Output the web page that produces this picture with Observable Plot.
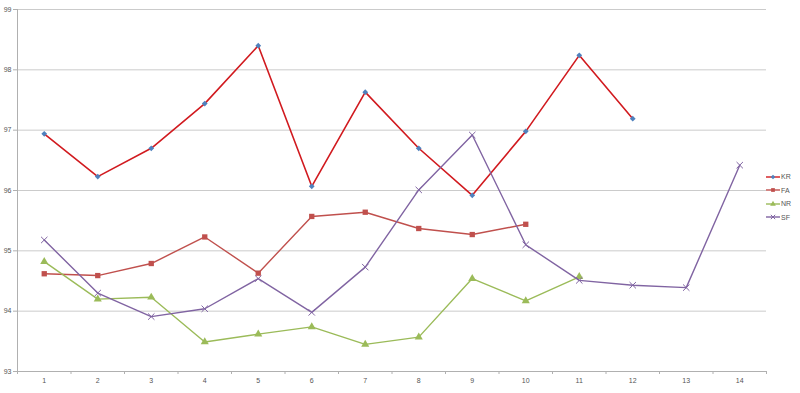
<!DOCTYPE html>
<html>
<head>
<meta charset="utf-8">
<script src="https://cdn.jsdelivr.net/npm/d3@7"></script>
<script src="https://cdn.jsdelivr.net/npm/@observablehq/plot@0.6"></script>
<style>
  html, body { margin: 0; padding: 0; background: #fff; }
  #wrap { position: relative; width: 800px; height: 393px; }
  #legend { position: absolute; left: 766px; top: 170px; font-family: "Liberation Sans", Arial, sans-serif; font-size: 7px; color: #555; }
  #legend .item { display: flex; align-items: center; height: 13.5px; }
  #legend svg { margin-right: 1px; }
</style>
</head>
<body>
<div id="wrap"><div id="legend"></div></div>
<script>
const categories = [1, 2, 3, 4, 5, 6, 7, 8, 9, 10, 11, 12, 13, 14];
const yTicks = [93, 94, 95, 96, 97, 98, 99];
const seriesNames = ["KR", "FA", "NR", "SF"];
const KR = [96.94, 96.23, 96.70, 97.44, 98.40, 96.07, 97.63, 96.70, 95.92, 96.98, 98.24, 97.19];
const FA = [94.62, 94.59, 94.79, 95.23, 94.63, 95.57, 95.64, 95.37, 95.27, 95.44];
const NR = [94.82, 94.20, 94.23, 93.49, 93.62, 93.74, 93.45, 93.57, 94.54, 94.17, 94.57];
const SF = [95.18, 94.30, 93.91, 94.04, 94.54, 93.98, 94.73, 96.01, 96.92, 95.10, 94.51, 94.43, 94.39, 96.42];

const styles = {
  KR: {line: "#d11a1f", fill: "#4f81bd", symbol: "diamond2", r: 2.6, width: 1.6},
  FA: {line: "#c0504d", fill: "#c0504d", symbol: "square", r: 3, width: 1.4},
  NR: {line: "#9bbb59", fill: "#9bbb59", symbol: "triangle", r: 3, width: 1.4},
  SF: {line: "#8064a2", fill: "#8064a2", symbol: "times", r: 3, width: 1.4}
};
const valuesBy = {KR, FA, NR, SF};
const rows = seriesNames.flatMap(s => valuesBy[s].map((v, i) => ({series: s, x: categories[i], y: v})));
const boundaries = [...categories.map(c => c - 0.5), categories[categories.length - 1] + 0.5];

const marks = [
  Plot.ruleY(yTicks.slice(1), {stroke: "#cbcbcb", strokeWidth: 1}),
  Plot.ruleY([yTicks[0]], {stroke: "#b0b0b0", strokeWidth: 1}),
  Plot.ruleX([boundaries[0]], {stroke: "#b0b0b0", strokeWidth: 1}),
  Plot.axisY({ticks: yTicks, tickSize: 4, tickPadding: 2, stroke: "#b0b0b0", label: null, tickFormat: d => d}),
  Plot.axisX({ticks: boundaries, tickSize: 3, tickFormat: () => "", stroke: "#b0b0b0", label: null}),
  Plot.axisX({ticks: categories, tickSize: 0, tickPadding: 7, label: null, tickFormat: d => d})
];
for (const s of seriesNames) {
  const st = styles[s];
  const data = rows.filter(d => d.series === s);
  marks.push(Plot.line(data, {x: "x", y: "y", stroke: st.line, strokeWidth: st.width}));
  if (st.symbol === "times") {
    marks.push(Plot.dot(data, {x: "x", y: "y", symbol: "times", stroke: st.fill, strokeWidth: 1, r: st.r}));
  } else {
    marks.push(Plot.dot(data, {x: "x", y: "y", symbol: st.symbol, fill: st.fill, stroke: "none", r: st.r}));
  }
}

const chart = Plot.plot({
  width: 800, height: 393,
  marginLeft: 17, marginRight: 34, marginTop: 9, marginBottom: 22,
  x: {type: "linear", domain: [boundaries[0], boundaries[boundaries.length - 1]]},
  y: {domain: [yTicks[0], yTicks[yTicks.length - 1]]},
  style: {fontFamily: "Liberation Sans, Arial, sans-serif", fontSize: "7px", color: "#555", background: "#fff"},
  marks
});
document.getElementById("wrap").prepend(chart);

const legend = document.getElementById("legend");
for (const s of seriesNames) {
  const st = styles[s];
  const item = document.createElement("div");
  item.className = "item";
  const ns = "http://www.w3.org/2000/svg";
  const svg = document.createElementNS(ns, "svg");
  svg.setAttribute("width", 14); svg.setAttribute("height", 8);
  const line = document.createElementNS(ns, "line");
  line.setAttribute("x1", 0); line.setAttribute("x2", 14); line.setAttribute("y1", 4); line.setAttribute("y2", 4);
  line.setAttribute("stroke", st.line); line.setAttribute("stroke-width", 1.4);
  svg.appendChild(line);
  const sym = {diamond2: d3.symbolDiamond2, square: d3.symbolSquare, triangle: d3.symbolTriangle, times: d3.symbolTimes}[st.symbol];
  const p = document.createElementNS(ns, "path");
  p.setAttribute("d", d3.symbol(sym, 14)());
  p.setAttribute("transform", "translate(7,4)");
  if (st.symbol === "times") { p.setAttribute("fill", "none"); p.setAttribute("stroke", st.fill); }
  else p.setAttribute("fill", st.fill);
  svg.appendChild(p);
  item.appendChild(svg);
  const t = document.createElement("span");
  t.textContent = s;
  item.appendChild(t);
  legend.appendChild(item);
}
</script>
</body>
</html>
